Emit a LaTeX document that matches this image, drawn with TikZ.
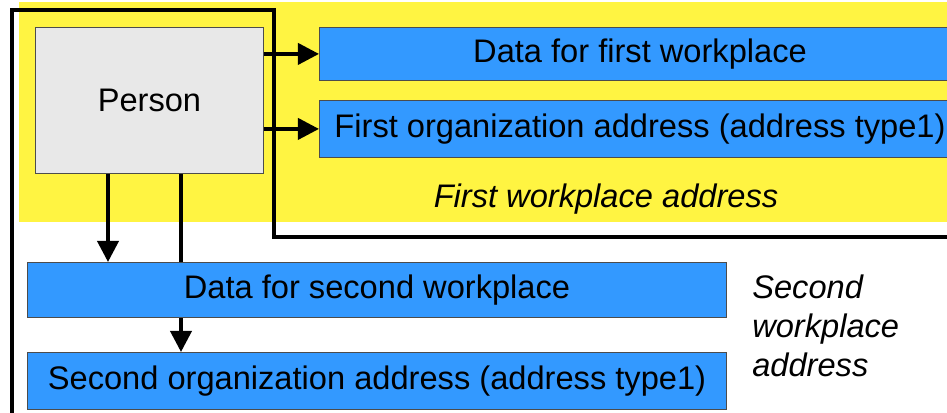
\documentclass[tikz,border=0pt]{standalone}
\usepackage{fontspec}
\setmainfont{Liberation Sans}
\usetikzlibrary{arrows.meta,positioning}

\definecolor{hiyellow}{RGB}{255,244,66}
\definecolor{recblue}{RGB}{51,153,255}
\definecolor{persongray}{RGB}{232,232,232}

\tikzset{
  txt/.style={font=\fontsize{23.2}{28}\selectfont},
  recbox/.style={txt,draw=black!70,line width=0.6pt,fill=recblue,
    anchor=north west,inner sep=0pt},
  link/.style={line width=2.7pt,-{Triangle[length=15pt,width=15pt]}},
  frame/.style={line width=2.8pt}
}

\begin{document}
\begin{tikzpicture}[x=0.025cm,y=-0.025cm]
\useasboundingbox (0,0) rectangle (947,413);
\clip (0,0) rectangle (947,413);
% first workplace area
\fill[hiyellow] (19,2) rectangle (960,222);
\draw[frame] (960,237) -| (274,10) -| (12,420);

\node[recbox,fill=persongray,minimum width=5.7cm,minimum height=3.65cm]
  (person) at (35,27) {Person};
\node[recbox,minimum width=16.025cm,minimum height=1.325cm]
  (data1) at (319,27) {Data for first workplace};
\node[recbox,minimum width=16.025cm,minimum height=1.425cm]
  (addr1) at (319,100) {First organization address (address type1)};
\node[txt,font=\fontsize{23.2}{28}\selectfont\itshape]
  (lbl1) at (606,199) {First workplace address};

\draw[link] (data1.west -| person.east) -- (data1.west);
\draw[link] (addr1.west -| person.east) -- (addr1.west);

% second workplace
\coordinate (d2) at (108,0);
\coordinate (a2) at (181,0);
\node[recbox,minimum width=17.475cm,minimum height=1.425cm]
  (addr2) at (27,352) {Second organization address (address type1)};
\draw[link] (person.south -| a2) -- (addr2.north -| a2);
\node[recbox,minimum width=17.475cm,minimum height=1.375cm]
  (data2) at (27,262) {Data for second workplace};
\draw[link] (person.south -| d2) -- (data2.north -| d2);
\node[txt,font=\fontsize{23.2}{27.7}\selectfont\itshape,align=left,
  anchor=north west,inner sep=0pt]
  (lbl2) at (752,275) {Second\\workplace\\address};
\end{tikzpicture}
\end{document}
